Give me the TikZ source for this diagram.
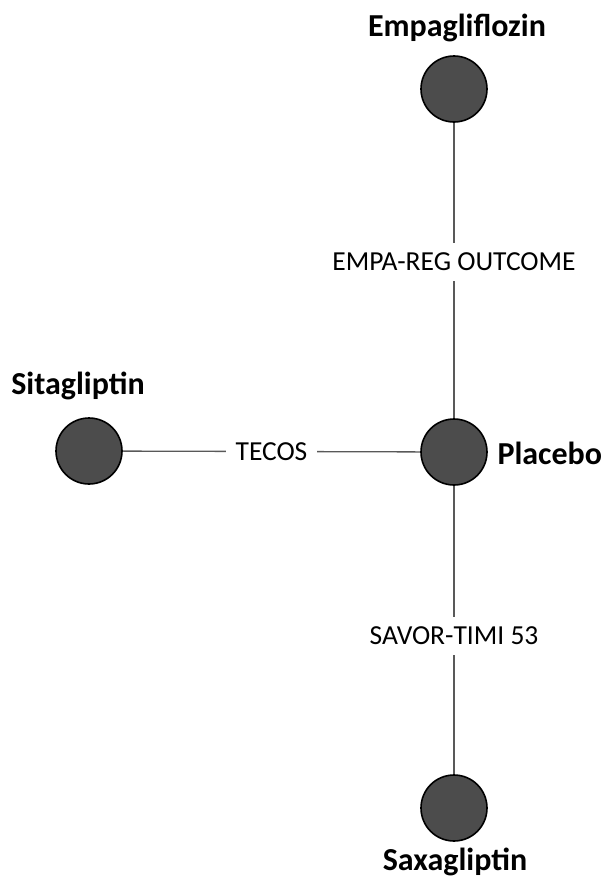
\documentclass[tikz,border=0pt]{standalone}
\usepackage{fontspec}
\setmainfont{Carlito}
\usepackage{tikz}

\begin{document}
\begin{tikzpicture}[x=1pt,y=-1pt]
\useasboundingbox (0,0) rectangle (603,878);
\tikzset{drug/.style={circle, draw=black, line width=1.6pt, fill=black!70, minimum size=66pt, inner sep=0pt},
         trial/.style={fill=white, text=black, inner sep=10pt, font=\fontsize{27.5}{30}\selectfont},
         druglabel/.style={font=\bfseries\fontsize{32}{36}\selectfont}}
\node[drug] at (454,89) (empa) {};
\node[drug] at (454,452) (plac) {};
\node[drug] at (89,451) (sita) {};
\node[drug] at (454,808) (saxa) {};
\node[druglabel] at (457,28) (l1) {Empagliflozin};
\node[druglabel] at (78,386) (l2) {Sitagliptin};
\node[druglabel, anchor=west] at (494,453) (l3) {Placebo};
\node[druglabel] at (455,862) (l4) {Saxagliptin};
\draw[black!65, line width=1.3pt] (empa) -- node[trial, pos=0.47] (t1) {EMPA-REG OUTCOME} (plac);
\draw[black!65, line width=1.3pt] (sita) -- node[trial, pos=0.5] (t2) {TECOS} (plac);
\draw[black!65, line width=1.3pt] (plac) -- node[trial, pos=0.52] (t3) {SAVOR-TIMI 53} (saxa);
\end{tikzpicture}
\end{document}
